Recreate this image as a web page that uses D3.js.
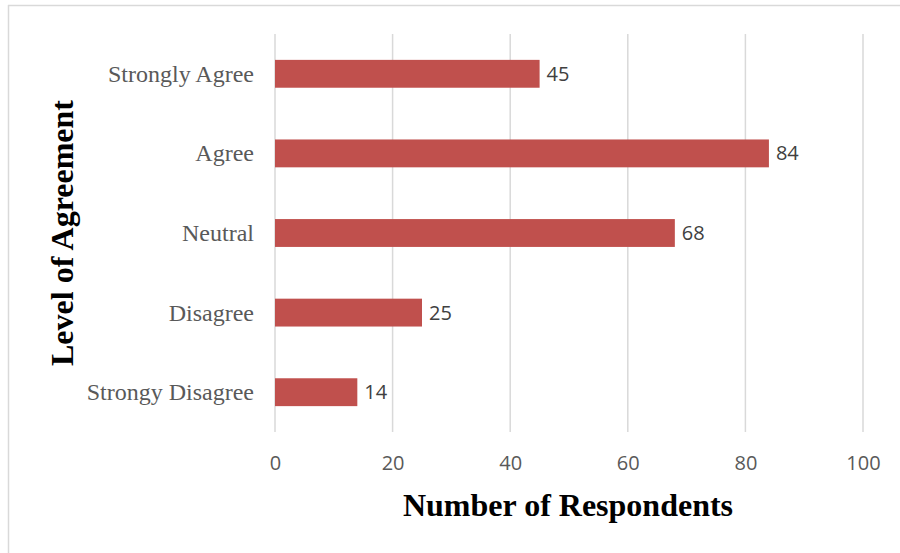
<!DOCTYPE html>
<html><head><meta charset="utf-8">
<script src="https://cdn.jsdelivr.net/npm/d3@7"></script>
<style>html,body{margin:0;padding:0;background:#fff;}</style>
</head><body>
<svg id="c" width="900" height="553"></svg>
<script>
const categories = ["Strongly Agree", "Agree", "Neutral", "Disagree", "Strongy Disagree"];
const values = [45, 84, 68, 25, 14];
const xTicks = [0, 20, 40, 60, 80, 100];
const xTitle = "Number of Respondents";
const yTitle = "Level of Agreement";

const svg = d3.select("#c");
const W = 900, H = 553;

// frame
svg.append("line").attr("x1", 8.5).attr("x2", 8.5).attr("y1", 5).attr("y2", H).attr("stroke", "#d9d9d9").attr("stroke-width", 1.5);
svg.append("line").attr("x1", 8).attr("x2", W).attr("y1", 5.5).attr("y2", 5.5).attr("stroke", "#d9d9d9").attr("stroke-width", 1.5);

const x = d3.scaleLinear().domain([0, 100]).range([275, 863]);
const y = d3.scaleBand().domain(categories).range([34, 432]).paddingInner(0.65).paddingOuter(0.325);

// gridlines
svg.append("g").selectAll("line").data(xTicks).join("line")
  .attr("x1", d => x(d)).attr("x2", d => x(d))
  .attr("y1", 34).attr("y2", 432)
  .attr("stroke", "#d9d9d9").attr("stroke-width", 1.5);

// x tick labels
const xAxis = d3.axisBottom(x).tickValues(xTicks).tickSize(0).tickPadding(0);
const gx = svg.append("g").attr("transform", "translate(0,452)").call(xAxis);
gx.select(".domain").remove();
gx.selectAll("text").attr("font-family", "'Open Sans', sans-serif").attr("font-size", 20)
  .attr("fill", "#595959").attr("dy", "0.9em");

// y category labels
const yAxis = d3.axisLeft(y).tickSize(0).tickPadding(21);
const gy = svg.append("g").attr("transform", "translate(275,0)").call(yAxis);
gy.select(".domain").remove();
gy.selectAll("text").attr("font-family", "'Liberation Serif', 'Times New Roman', serif").attr("font-size", 24)
  .attr("fill", "#595959").attr("dy", "0.33em");

// bars
svg.append("g").selectAll("rect").data(categories).join("rect")
  .attr("x", x(0)).attr("y", d => y(d))
  .attr("width", (d, i) => x(values[i]) - x(0))
  .attr("height", y.bandwidth())
  .attr("fill", "#c0504d");

// value labels
svg.append("g").selectAll("text").data(categories).join("text")
  .attr("x", (d, i) => x(values[i]) + 7)
  .attr("y", d => y(d) + y.bandwidth() / 2)
  .attr("dy", "0.35em")
  .attr("font-family", "'Open Sans', sans-serif").attr("font-size", 20)
  .attr("fill", "#404040")
  .text((d, i) => values[i]);

// axis titles
svg.append("text").attr("x", 568).attr("y", 516).attr("text-anchor", "middle")
  .attr("font-family", "'Liberation Serif', 'Times New Roman', serif").attr("font-weight", "bold")
  .attr("font-size", 32).attr("fill", "#000").text(xTitle);
svg.append("text").attr("transform", "translate(73,233) rotate(-90)").attr("text-anchor", "middle")
  .attr("font-family", "'Liberation Serif', 'Times New Roman', serif").attr("font-weight", "bold")
  .attr("font-size", 32).attr("fill", "#000").text(yTitle);
</script>
</body></html>
